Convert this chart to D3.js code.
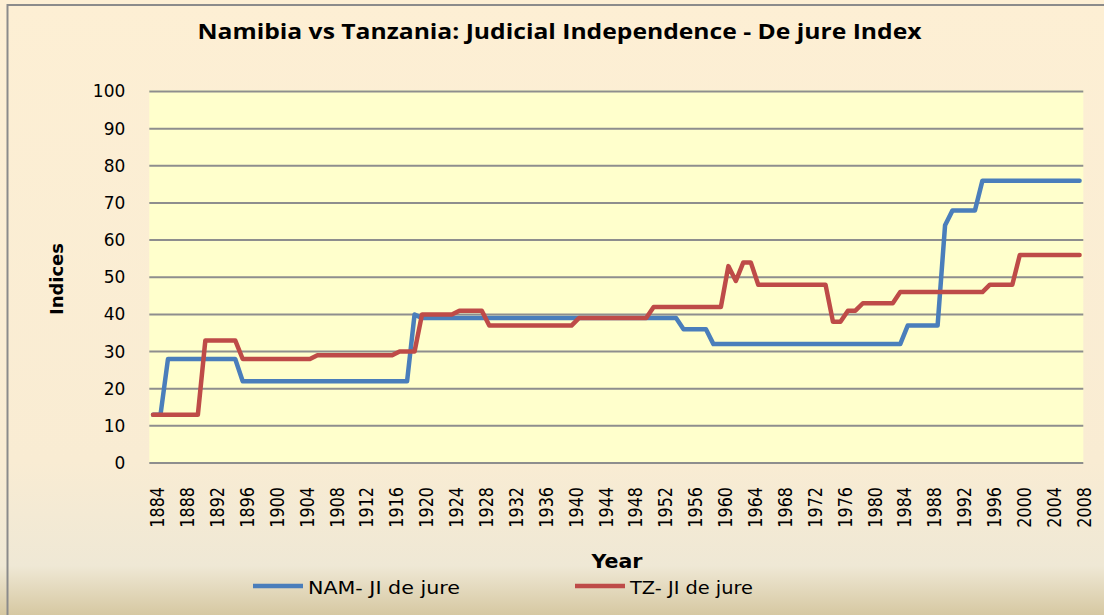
<!DOCTYPE html>
<html>
<head>
<meta charset="utf-8">
<script src="https://cdn.jsdelivr.net/npm/d3@7"></script>
<style>
  html, body { margin: 0; padding: 0; background: #fdefd4; }
  svg { display: block; }
</style>
</head>
<body>
<div id="chart"></div>
<script>
const years = d3.range(1884, 2009);
const yearTicks = [1884, 1888, 1892, 1896, 1900, 1904, 1908, 1912, 1916, 1920, 1924, 1928,
    1932, 1936, 1940, 1944, 1948, 1952, 1956, 1960, 1964, 1968, 1972, 1976, 1980, 1984,
    1988, 1992, 1996, 2000, 2004, 2008];
const valueTicks = [0, 10, 20, 30, 40, 50, 60, 70, 80, 90, 100];

// NAM- JI de jure, one value per year 1884..2008
const namValues = [
    13, 13, 28, 28, 28, 28, 28, 28, 28, 28, 28, 28,             // 1884-1895
    22, 22, 22, 22, 22, 22, 22, 22, 22, 22, 22, 22,             // 1896-1907
    22, 22, 22, 22, 22, 22, 22, 22, 22, 22, 22, 40,             // 1908-1919
    39, 39, 39, 39, 39, 39, 39, 39, 39, 39, 39, 39,             // 1920-1931
    39, 39, 39, 39, 39, 39, 39, 39, 39, 39, 39, 39,             // 1932-1943
    39, 39, 39, 39, 39, 39, 39, 39, 39, 39, 39, 36,             // 1944-1955
    36, 36, 36, 32, 32, 32, 32, 32, 32, 32, 32, 32,             // 1956-1967
    32, 32, 32, 32, 32, 32, 32, 32, 32, 32, 32, 32,             // 1968-1979
    32, 32, 32, 32, 32, 37, 37, 37, 37, 37, 64, 68,             // 1980-1991
    68, 68, 68, 76, 76, 76, 76, 76, 76, 76, 76, 76,             // 1992-2003
    76, 76, 76, 76, 76                                          // 2004-2008
];

// TZ- JI de jure
const tzValues = [
    13, 13, 13, 13, 13, 13, 13, 33, 33, 33, 33, 33,             // 1884-1895
    28, 28, 28, 28, 28, 28, 28, 28, 28, 28, 29, 29,             // 1896-1907
    29, 29, 29, 29, 29, 29, 29, 29, 29, 30, 30, 30,             // 1908-1919
    40, 40, 40, 40, 40, 41, 41, 41, 41, 37, 37, 37,             // 1920-1931
    37, 37, 37, 37, 37, 37, 37, 37, 37, 39, 39, 39,             // 1932-1943
    39, 39, 39, 39, 39, 39, 39, 42, 42, 42, 42, 42,             // 1944-1955
    42, 42, 42, 42, 42, 53, 49, 54, 54, 48, 48, 48,             // 1956-1967
    48, 48, 48, 48, 48, 48, 48, 38, 38, 41, 41, 43,             // 1968-1979
    43, 43, 43, 43, 46, 46, 46, 46, 46, 46, 46, 46,             // 1980-1991
    46, 46, 46, 46, 48, 48, 48, 48, 56, 56, 56, 56,             // 1992-2003
    56, 56, 56, 56, 56                                          // 2004-2008
];

const seriesNames = ["NAM- JI de jure", "TZ- JI de jure"];
const seriesColors = ["#4a7ebb", "#be4b48"];

const W = 1104, H = 615;
const plot = { left: 149.3, right: 1083.3, top: 90, bottom: 463 };

const svg = d3.select("#chart")
    .append("svg")
    .attr("width", W)
    .attr("height", H);

// chart area background
const defs = svg.append("defs");
const bg = defs.append("linearGradient")
    .attr("id", "bg")
    .attr("x1", 0).attr("y1", 0).attr("x2", 0).attr("y2", 1);
bg.append("stop").attr("offset", "0%").attr("stop-color", "#fdefd4");
bg.append("stop").attr("offset", "75%").attr("stop-color", "#f9ecd3");
bg.append("stop").attr("offset", "92%").attr("stop-color", "#efe8d5");
bg.append("stop").attr("offset", "100%").attr("stop-color", "#d6c8a2");

svg.append("rect")
    .attr("x", 0).attr("y", 0)
    .attr("width", W).attr("height", H)
    .attr("fill", "url(#bg)");

svg.append("path")
    .attr("d", `M7.5,${H} V5 H${W}`)
    .attr("fill", "none")
    .attr("stroke", "#8b8b8b")
    .attr("stroke-width", 2);

// plot area
svg.append("rect")
    .attr("x", plot.left).attr("y", plot.top)
    .attr("width", plot.right - plot.left)
    .attr("height", plot.bottom - plot.top)
    .attr("fill", "#ffffcc");

const x = d3.scalePoint()
    .domain(years)
    .range([plot.left, plot.right])
    .padding(0.5);

const y = d3.scaleLinear()
    .domain([0, 100])
    .range([463, 91.5]);

// gridlines
svg.append("g")
    .selectAll("line")
    .data(valueTicks)
    .enter()
    .append("line")
    .attr("x1", plot.left)
    .attr("x2", plot.right)
    .attr("y1", d => y(d))
    .attr("y2", d => y(d))
    .attr("stroke", "#8e8e8e")
    .attr("stroke-width", 2);

// y axis labels
const yAxis = svg.append("g")
    .attr("transform", `translate(${plot.left},0)`)
    .call(d3.axisLeft(y).tickValues(valueTicks).tickSize(0).tickPadding(24));
yAxis.select(".domain").remove();
yAxis.selectAll("text")
    .attr("font-family", "DejaVu Sans, sans-serif")
    .attr("font-size", 17)
    .attr("fill", "#000");

// x axis labels
const xAxis = svg.append("g")
    .attr("transform", `translate(0,${plot.bottom})`)
    .call(d3.axisBottom(x).tickValues(yearTicks).tickSize(0));
xAxis.select(".domain").remove();
xAxis.selectAll("text")
    .attr("font-family", "DejaVu Sans, sans-serif")
    .attr("font-size", 16)
    .attr("fill", "#000")
    .attr("text-anchor", "end")
    .attr("x", 0).attr("y", 0).attr("dy", "0.36em")
    .attr("transform", "translate(3.5,24) rotate(-90) scale(1,1.25)");

// lines
const line = d3.line()
    .x((d, i) => x(years[i]))
    .y(d => y(d));

[namValues, tzValues].forEach((vals, k) => {
    svg.append("path")
        .datum(vals)
        .attr("d", line)
        .attr("fill", "none")
        .attr("stroke", seriesColors[k])
        .attr("stroke-width", 4.5)
        .attr("stroke-linejoin", "round")
        .attr("stroke-linecap", "round");
});

// titles
svg.append("text")
    .attr("x", 559.5).attr("y", 39)
    .attr("text-anchor", "middle")
    .attr("font-family", "Open Sans, sans-serif")
    .attr("font-weight", "bold")
    .attr("font-size", 20.5)
    .attr("textLength", 724)
    .attr("lengthAdjust", "spacingAndGlyphs")
    .text("Namibia vs Tanzania: Judicial Independence - De jure Index");

svg.append("text")
    .attr("transform", "translate(63,279) rotate(-90)")
    .attr("text-anchor", "middle")
    .attr("font-family", "DejaVu Sans, sans-serif")
    .attr("font-weight", "bold")
    .attr("font-size", 18)
    .attr("textLength", 72)
    .attr("lengthAdjust", "spacingAndGlyphs")
    .text("Indices");

svg.append("text")
    .attr("x", 617).attr("y", 567.5)
    .attr("text-anchor", "middle")
    .attr("font-family", "DejaVu Sans, sans-serif")
    .attr("font-weight", "bold")
    .attr("font-size", 20)
    .attr("textLength", 51)
    .attr("lengthAdjust", "spacingAndGlyphs")
    .text("Year");

// legend
const legendX = [253, 575];
const legend = svg.append("g")
    .selectAll("g")
    .data(seriesNames)
    .enter()
    .append("g")
    .attr("transform", (d, i) => `translate(${legendX[i]},586)`);
legend.append("line")
    .attr("x1", 0).attr("x2", 50)
    .attr("stroke", (d, i) => seriesColors[i])
    .attr("stroke-width", 4.5);
legend.append("text")
    .attr("x", 55).attr("y", 7.5)
    .attr("font-family", "DejaVu Sans, sans-serif")
    .attr("font-size", 18)
    .attr("textLength", (d, i) => i === 0 ? 152 : 123)
    .attr("lengthAdjust", "spacingAndGlyphs")
    .text(d => d);
</script>
</body>
</html>
